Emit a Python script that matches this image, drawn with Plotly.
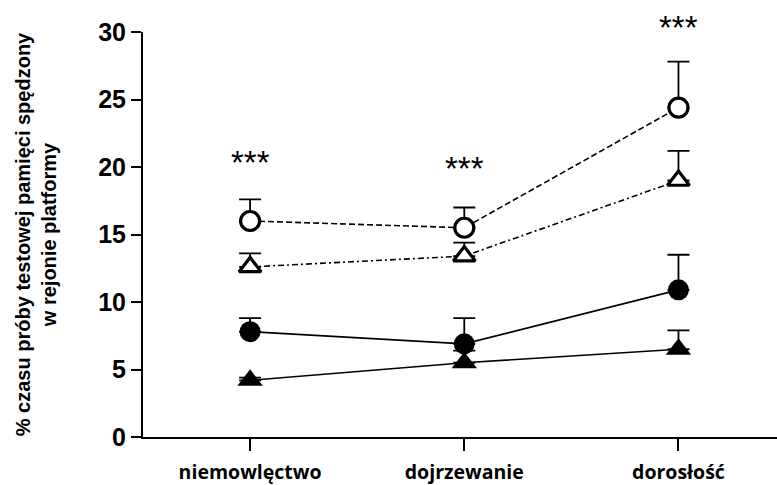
import plotly.graph_objects as go

# Developmental stages on the x axis
stages = ["niemowlęctwo", "dojrzewanie", "dorosłość"]

# Mean % of probe-trial time spent in the platform zone, with upper SEM
open_circle = [16.0, 15.5, 24.4]
open_circle_err = [1.6, 1.5, 3.4]
open_triangle = [12.6, 13.4, 19.0]
open_triangle_err = [1.0, 1.0, 2.2]
filled_circle = [7.8, 6.9, 10.9]
filled_circle_err = [1.0, 1.9, 2.6]
filled_triangle = [4.2, 5.5, 6.5]
filled_triangle_err = [0.2, 0.9, 1.4]

# Significance marks per stage
sig_labels = ["***", "***", "***"]
sig_y = [20.3, 19.9, 30.3]

Y_MAX = 30
xs = list(range(len(stages)))

fig = go.Figure()


def add_series(y, err, symbol, fill, dash, size):
    fig.add_trace(go.Scatter(
        x=xs, y=y, mode="lines+markers",
        line=dict(color="black", width=1.6, dash=dash),
        marker=dict(symbol=symbol, size=size, color=fill,
                    line=dict(color="black", width=3.2 if fill == "white" else 0)),
        error_y=dict(type="data", symmetric=False, array=err,
                     arrayminus=[0] * len(err), color="black",
                     thickness=1.8, width=11),
        cliponaxis=False, showlegend=False,
    ))


add_series(filled_triangle, filled_triangle_err, "triangle-up", "black", "solid", 22)
add_series(filled_circle, filled_circle_err, "circle", "black", "solid", 21)
add_series(open_triangle, open_triangle_err, "triangle-up", "white", "6px,3px,2px,3px", 19)
add_series(open_circle, open_circle_err, "circle", "white", "6px,3px", 19)

# Stars are placed in paper units so they stay visible above the top of the axis
for x, y, t in zip(xs, sig_y, sig_labels):
    fig.add_annotation(x=x, xref="x", y=y / Y_MAX, yref="paper", text=t,
                       showarrow=False, yanchor="middle",
                       font=dict(family="Liberation Sans, Arial", size=33, color="black"))

fig.update_layout(
    width=777, height=485,
    margin=dict(l=143, r=0, t=32, b=48),
    plot_bgcolor="white", paper_bgcolor="white",
    xaxis=dict(
        range=[-0.5, 2.46], tickmode="array", tickvals=xs, ticktext=stages,
        showline=True, linecolor="black", linewidth=2,
        ticks="outside", ticklen=12, tickwidth=2, tickcolor="black",
        showgrid=False, zeroline=False, ticklabelstandoff=5, automargin=False,
        tickfont=dict(family="Open Sans, Liberation Sans", size=19.5, color="black",
                      weight="bold"),
    ),
    yaxis=dict(
        range=[0, Y_MAX], tickvals=[0, 5, 10, 15, 20, 25, 30],
        showline=True, linecolor="black", linewidth=2,
        ticks="outside", ticklen=10, tickwidth=2, tickcolor="black",
        showgrid=False, zeroline=False, automargin=False,
        tickfont=dict(family="Liberation Sans, Arial", size=25, color="black",
                      weight="bold"),
        title=dict(text="% czasu próby testowej pamięci spędzony<br>w rejonie platformy",
                   font=dict(family="Liberation Sans, Arial", size=20, color="black",
                             weight="bold"),
                   standoff=36),
    ),
)

fig.write_html("out.html")
